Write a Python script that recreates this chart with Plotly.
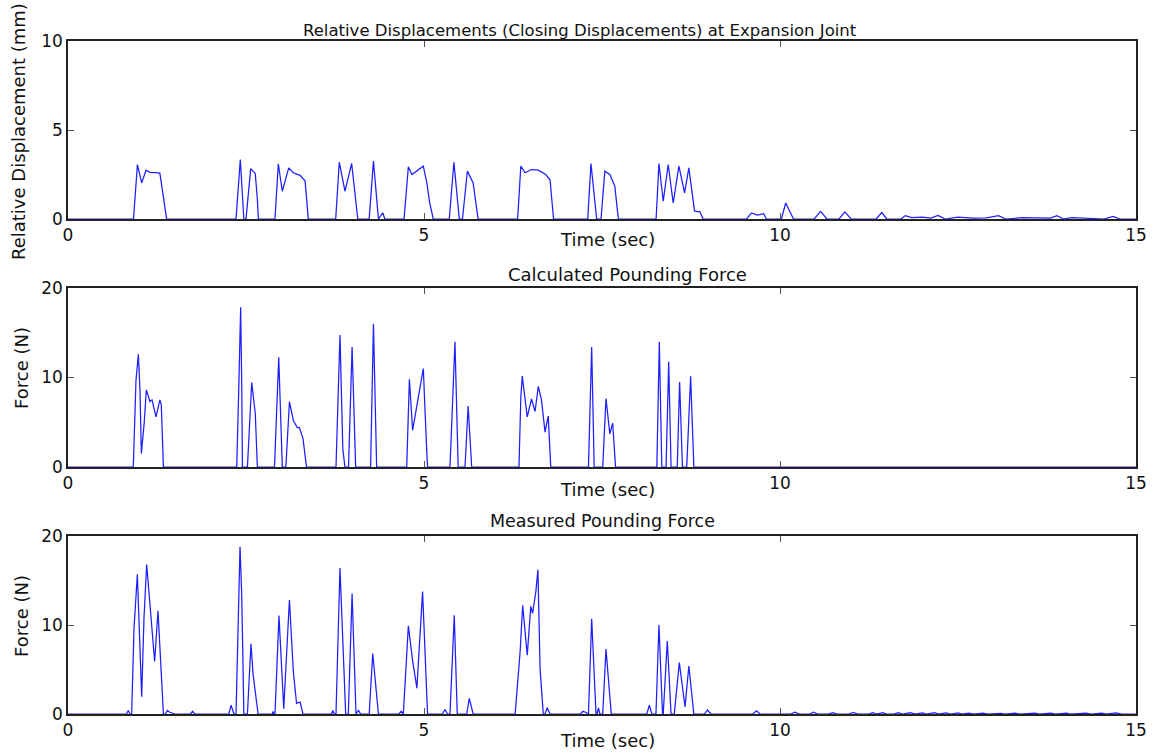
import plotly.graph_objects as go
from plotly.subplots import make_subplots

# ---- relative (closing) displacement at the expansion joint, mm ----
disp_t = [0, 0.92, 0.975, 1.035, 1.096, 1.15, 1.22, 1.29, 1.33, 1.385,
          2.36, 2.42, 2.47, 2.50, 2.566, 2.63, 2.66, 2.673,
          2.907, 2.954, 3.01, 3.10, 3.165, 3.26, 3.33, 3.375,
          3.76, 3.81, 3.89, 3.984, 4.07,
          4.23, 4.29, 4.36, 4.42, 4.45,
          4.72, 4.78, 4.83, 4.99, 5.04, 5.08, 5.13,
          5.355, 5.42, 5.496, 5.54, 5.61, 5.69, 5.76,
          6.315, 6.36, 6.42, 6.51, 6.605, 6.71, 6.77, 6.82,
          7.30, 7.345, 7.425, 7.486, 7.54, 7.61, 7.68, 7.73,
          8.26, 8.30, 8.36, 8.43, 8.50, 8.58, 8.66, 8.72, 8.80, 8.876, 8.92,
          9.53, 9.60, 9.68, 9.77, 9.81, 10.02, 10.08, 10.19,
          10.48, 10.57, 10.66, 10.83, 10.91, 11.0, 11.35, 11.43, 11.5,
          11.7, 11.76, 11.85, 12.0, 12.12, 12.22, 12.32, 12.5, 12.7, 12.9,
          13.07, 13.17, 13.4, 13.6, 13.8, 13.89, 13.98, 14.1, 14.3, 14.55,
          14.68, 14.77, 15]
disp_mm = [0, 0, 3.06, 2.03, 2.74, 2.62, 2.6, 2.58, 1.5, 0,
           0, 3.34, 0, 0, 2.83, 2.56, 1.1, 0,
           0, 3.1, 1.56, 2.87, 2.6, 2.45, 2.13, 0,
           0, 3.19, 1.56, 3.12, 0,
           0, 3.25, 0, 0.35, 0,
           0, 2.93, 2.5, 2.97, 2.03, 0.9, 0,
           0, 3.19, 0, 0, 2.69, 2.03, 0,
           0, 2.97, 2.6, 2.78, 2.74, 2.5, 2.2, 0,
           0, 3.12, 0, 0, 2.69, 2.5, 1.85, 0,
           0, 3.12, 1.0, 3.06, 0.9, 2.97, 1.47, 2.87, 0.44, 0.4, 0,
           0, 0.34, 0.22, 0.3, 0, 0, 0.9, 0,
           0, 0.43, 0, 0, 0.4, 0, 0, 0.36, 0,
           0, 0.19, 0.08, 0.1, 0.05, 0.2, 0, 0.1, 0.05, 0.06,
           0.19, 0, 0.07, 0.06, 0.05, 0.19, 0, 0.08, 0.05, 0,
           0.15, 0, 0]

# ---- calculated pounding force, N ----
calc_t = [0, 0.917, 0.955, 0.988, 1.011, 1.03, 1.07, 1.10, 1.125, 1.15, 1.18,
          1.236, 1.29, 1.31, 1.34,
          2.37, 2.40, 2.425, 2.44, 2.45, 2.52, 2.58, 2.63, 2.66,
          2.90, 2.96, 3.01, 3.06, 3.11, 3.165, 3.22, 3.25, 3.30, 3.35,
          3.764, 3.82, 3.86, 3.89, 3.94, 3.99, 4.04,
          4.25, 4.29, 4.335,
          4.757, 4.795, 4.84, 4.92, 4.99, 5.04, 5.05,
          5.365, 5.435, 5.48, 5.576, 5.62, 5.67,
          6.334, 6.36, 6.38, 6.45, 6.51, 6.56, 6.605, 6.65, 6.70, 6.745, 6.78,
          7.31, 7.355, 7.39, 7.51, 7.556, 7.61, 7.65, 7.69,
          8.27, 8.305, 8.34, 8.40, 8.437, 8.47, 8.557, 8.59, 8.63, 8.69, 8.745,
          8.79, 15]
calc_n = [0, 0, 9.7, 12.6, 8.6, 1.5, 4.9, 8.6, 8.0, 7.3, 7.5,
          5.6, 7.5, 7.0, 0,
          0, 9.3, 17.85, 9.3, 0, 0, 9.45, 6.0, 0,
          0, 12.25, 0, 0, 7.3, 5.2, 4.4, 4.4, 3.2, 0,
          0, 14.75, 2.0, 0, 0, 13.4, 0,
          0, 16.0, 0,
          0, 9.8, 4.1, 7.65, 11.0, 1.5, 0,
          0, 14.0, 0, 0, 6.8, 0,
          0, 7.8, 10.15, 5.6, 7.6, 6.2, 9.0, 7.5, 3.9, 5.7, 0,
          0, 13.4, 0, 0, 7.65, 3.7, 4.9, 0,
          0, 14.0, 0, 0, 11.75, 0, 0, 9.5, 0, 0, 10.15,
          0, 0]

# ---- measured pounding force, N ----
meas_t = [0, 0.82, 0.847, 0.87, 0.894, 0.927, 0.974, 1.00, 1.035, 1.067, 1.105,
          1.14, 1.18, 1.217, 1.264, 1.29, 1.34, 1.37, 1.395, 1.43, 1.5, 1.72,
          1.75, 1.78,
          2.26, 2.29, 2.33, 2.36, 2.38, 2.416, 2.44, 2.47, 2.52, 2.57, 2.60, 2.67,
          2.87, 2.88, 2.89, 2.907, 2.963, 3.03, 3.11, 3.165, 3.21, 3.26, 3.30,
          3.70, 3.72, 3.74, 3.764, 3.82, 3.90, 3.937, 3.99, 4.045, 4.08, 4.11,
          4.23, 4.28, 4.36,
          4.65, 4.68, 4.71, 4.78, 4.84, 4.90, 4.98, 5.05,
          5.26, 5.295, 5.33, 5.365, 5.425, 5.467, 5.60, 5.636, 5.69,
          6.28, 6.35, 6.386, 6.45, 6.50, 6.525, 6.57, 6.60, 6.63, 6.675, 6.70,
          6.73, 6.77,
          7.20, 7.23, 7.27, 7.31, 7.355, 7.416, 7.43, 7.45, 7.47, 7.51, 7.556, 7.63,
          8.13, 8.165, 8.20, 8.258, 8.30, 8.35, 8.36, 8.417, 8.47, 8.515, 8.586,
          8.666, 8.72, 8.79, 8.94, 8.98, 9.03,
          9.62, 9.67, 9.72, 10.15, 10.21, 10.27, 10.42, 10.47, 10.53, 10.68, 10.74,
          10.80, 10.97, 11.03, 11.09, 11.25, 11.30, 11.36, 11.44, 11.50, 11.60,
          11.66, 11.72, 11.83, 11.90, 12.00, 12.06, 12.17, 12.23, 12.33, 12.40,
          12.50, 12.56, 12.65, 12.72, 12.85, 12.92, 13.10, 13.16, 13.30, 13.37,
          13.58, 13.64, 13.80, 13.87, 14.02, 14.08, 14.30, 14.37, 14.52, 14.58,
          14.72, 14.80, 15]
meas_n = [0, 0, 0.4, 0, 0, 9.6, 15.7, 9.6, 1.95, 10.75, 16.8,
          13.4, 9.6, 5.9, 11.6, 8.0, 0, 0, 0.4, 0.2, 0, 0,
          0.3, 0,
          0, 1.0, 0, 0, 6.25, 18.8, 13.4, 0, 0, 7.9, 4.4, 0,
          0, 0.3, 0, 0, 11.05, 0.6, 12.8, 4.75, 1.2, 1.35, 0,
          0, 0.4, 0, 0, 16.4, 0, 0, 13.55, 0, 0.4, 0,
          0, 6.8, 0,
          0, 0.3, 0, 9.9, 6.0, 2.9, 13.75, 0,
          0, 0.5, 0, 0, 11.1, 0, 0, 1.75, 0,
          0, 7.0, 12.2, 6.6, 12.1, 11.3, 13.7, 16.2, 5.1, 0, 0,
          0.7, 0,
          0, 0.3, 0.2, 0, 10.7, 0, 0, 0.7, 0, 0, 7.3, 0,
          0, 1.0, 0, 0, 10.0, 0, 0, 8.2, 0, 0, 5.77,
          0.8, 5.4, 0, 0, 0.45, 0,
          0, 0.35, 0, 0, 0.2, 0, 0, 0.2, 0, 0, 0.15,
          0, 0, 0.18, 0, 0, 0.15, 0, 0.14, 0, 0,
          0.15, 0, 0.14, 0, 0.12, 0, 0.14, 0, 0.12, 0,
          0.12, 0, 0.1, 0, 0.1, 0, 0.08, 0, 0.1, 0,
          0.1, 0, 0.1, 0, 0.1, 0, 0.1, 0, 0.1, 0,
          0.12, 0, 0]

panel_titles = ["Relative Displacements (Closing Displacements) at Expansion Joint",
                "Calculated Pounding Force",
                "Measured Pounding Force"]
y_titles = ["Relative Displacement (mm)", "Force (N)", "Force (N)"]
y_ticks = [[0, 5, 10], [0, 10, 20], [0, 10, 20]]
y_ranges = [[0, 10], [0, 20], [0, 20]]
x_ticks = [0, 5, 10, 15]

FONT = "DejaVu Sans"
LINE = dict(color="rgb(30,30,255)", width=1.25)

fig = make_subplots(rows=3, cols=1, vertical_spacing=0.1)
series = [(disp_t, disp_mm), (calc_t, calc_n), (meas_t, meas_n)]
for i, (t, v) in enumerate(series, start=1):
    fig.add_trace(go.Scatter(x=t, y=v, mode="lines", line=LINE,
                             showlegend=False, hoverinfo="skip"), row=i, col=1)

# plot area pixel rows: 41-219, 288-467, 536-714 inside a 41/39 margin
H = 673.0
domains = [[(714 - 219) / H, 1.0],
           [(714 - 467) / H, (714 - 288) / H],
           [0.0, (714 - 536) / H]]

axis_common = dict(showline=True, linecolor="#222", linewidth=1.5, mirror="ticks",
                   ticks="inside", ticklen=6, tickcolor="#555", tickwidth=1,
                   showgrid=False, zeroline=False,
                   tickfont=dict(family=FONT, size=17, color="#111"))

for i in range(3):
    fig.update_xaxes(range=[0, 15], tickvals=x_ticks, row=i + 1, col=1,
                     **axis_common)
    fig.update_yaxes(range=y_ranges[i], tickvals=y_ticks[i], domain=domains[i],
                     row=i + 1, col=1, **axis_common)
fig.update_xaxes(layer="below traces", row=2, col=1)
fig.update_yaxes(layer="below traces", row=2, col=1)

def py(pixel_y):
    return (714 - pixel_y) / H

def px(pixel_x):
    return (pixel_x - 68) / 1068.0

annotations = []
title_specs = [(580, 30, 16.5), (627, 274, 18), (602, 521, 17.5)]
for text, (cx, cy, fs) in zip(panel_titles, title_specs):
    annotations.append(dict(text=text, x=px(cx), y=py(cy), xref="paper", yref="paper",
                            showarrow=False, xanchor="center", yanchor="middle",
                            font=dict(family=FONT, size=fs, color="#111")))
for cy in (240, 489, 740):
    annotations.append(dict(text="Time (sec)", x=px(607), y=py(cy), xref="paper",
                            yref="paper", showarrow=False, xanchor="center",
                            yanchor="middle",
                            font=dict(family=FONT, size=18, color="#111")))
for text, (cx, cy) in zip(y_titles, [(19, 132), (21, 368), (21, 616)]):
    annotations.append(dict(text=text, x=px(cx), y=py(cy), xref="paper", yref="paper",
                            showarrow=False, textangle=-90, xanchor="center",
                            yanchor="middle",
                            font=dict(family=FONT, size=18, color="#111")))

fig.update_layout(width=1158, height=753, autosize=False,
                  margin=dict(l=68, r=22, t=41, b=39),
                  paper_bgcolor="white", plot_bgcolor="white",
                  annotations=annotations, font=dict(family=FONT))

fig.write_html("out.html")
